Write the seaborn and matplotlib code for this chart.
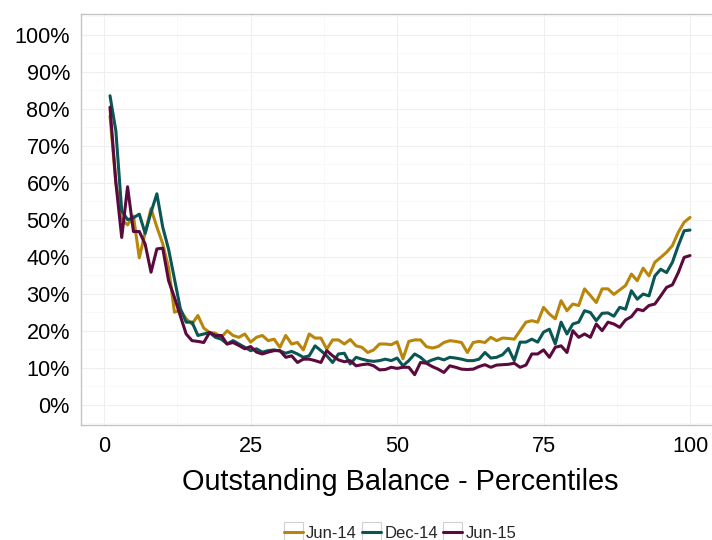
import matplotlib
matplotlib.use("Agg")
import matplotlib.pyplot as plt
from matplotlib.legend_handler import HandlerLine2D
from matplotlib.patches import Rectangle
from matplotlib.ticker import FuncFormatter, MultipleLocator
import pandas as pd
import seaborn as sns

percentiles = list(range(1, 101))

jun14 = [78, 60, 50, 48.6, 51, 39.7, 46.5, 53, 48, 43.5,
         37, 25, 25.5, 23.2, 21.8, 24.1, 20.7, 19.5, 19.3, 18.2,
         20, 18.7, 18.2, 19.1, 16.9, 18.2, 18.7, 17.3, 17.7, 15.5,
         18.7, 16.4, 16.8, 14.8, 19.1, 18.0, 18.0, 15.0, 17.5, 17.5,
         16.4, 17.6, 15.9, 15.5, 14.1, 14.8, 16.4, 16.4, 16.2, 17.0,
         12.4, 17.1, 17.5, 17.5, 15.7, 15.3, 15.7, 16.8, 17.3, 17.1,
         16.8, 14.1, 16.8, 17.1, 16.8, 18.2, 17.3, 18.0, 17.9, 17.7,
         20.0, 22.3, 22.7, 22.3, 26.3, 24.5, 23.2, 28.1, 25.4, 27.2,
         26.8, 31.3, 29.5, 27.6, 31.3, 31.3, 29.8, 31.0, 32.2, 35.3,
         33.5, 36.9, 34.8, 38.5, 39.8, 41.2, 43.0, 46.6, 49.3, 50.6]

dec14 = [83.5, 74, 52.4, 50, 50.5, 51.5, 46.3, 52, 57, 48,
         42, 34, 26, 22.3, 22.3, 18.7, 19.1, 19.5, 18.2, 17.7,
         16.4, 17.3, 16.4, 15.5, 14.6, 15.1, 14.2, 14.6, 14.8, 14.5,
         13.9, 14.4, 13.7, 12.8, 13.2, 15.9, 14.6, 13.2, 11.4, 13.7,
         13.9, 11.0, 12.8, 12.3, 11.9, 11.7, 11.9, 12.3, 11.9, 12.6,
         10.5, 11.9, 13.7, 12.8, 11.4, 12.1, 12.6, 12.1, 12.8, 12.6,
         12.3, 11.9, 11.9, 12.3, 14.1, 12.6, 12.8, 13.5, 15.2, 11.9,
         16.9, 16.9, 17.7, 16.9, 19.6, 20.4, 16.4, 22.3, 19.1, 21.8,
         22.3, 25.4, 24.9, 22.7, 24.7, 24.8, 23.9, 26.3, 25.8, 30.8,
         28.5, 29.9, 29.4, 34.8, 36.6, 35.7, 38.5, 43.0, 47.0, 47.2]

jun15 = [80.4, 60, 45.2, 58.9, 46.8, 46.8, 43.4, 35.8, 42.1, 42.3,
         33.5, 29, 24, 19.1, 17.3, 17.1, 16.8, 19.5, 18.7, 18.7,
         16.4, 16.8, 16.0, 15.1, 15.7, 14.2, 13.7, 14.2, 14.6, 14.6,
         12.8, 13.2, 11.4, 12.3, 12.3, 11.9, 11.4, 14.6, 13.2, 12.1,
         11.6, 11.9, 10.5, 10.8, 11.0, 10.5, 9.4, 9.5, 10.1, 9.8,
         10.1, 10.1, 8.1, 11.4, 11.2, 10.3, 9.6, 8.7, 10.5, 10.1,
         9.6, 9.5, 9.6, 10.3, 10.8, 10.1, 10.7, 10.8, 10.9, 11.2,
         10.1, 10.7, 13.7, 13.7, 14.8, 12.8, 15.5, 15.9, 14.1, 20.0,
         18.2, 19.1, 18.2, 21.8, 20.0, 22.3, 21.8, 20.9, 22.9, 23.8,
         25.8, 25.4, 26.8, 27.2, 29.4, 31.7, 32.4, 35.7, 39.8, 40.3]

series_names = ["Jun-14", "Dec-14", "Jun-15"]
series_colors = ["#B8860B", "#0A5654", "#5A0A3C"]
x_ticks = [0, 25, 50, 75, 100]
y_ticks = list(range(0, 101, 10))

df = pd.concat([
    pd.DataFrame({"pct": percentiles, "value": vals, "period": name})
    for name, vals in zip(series_names, [jun14, dec14, jun15])
])

sns.set_theme(style="white")
plt.rcParams["font.family"] = ["Liberation Sans", "DejaVu Sans"]

fig = plt.figure(figsize=(7.12, 5.40), dpi=100)
ax = fig.add_axes([81 / 712, 1 - 425 / 540, (719 - 81) / 712, (425 - 14) / 540])

sns.lineplot(data=df, x="pct", y="value", hue="period",
             hue_order=series_names, palette=series_colors,
             linewidth=2.2, ax=ax, legend=True)

ax.set_xlim(-3.95, 104.95)
ax.set_ylim(-5.5, 105.6)
ax.set_xticks(x_ticks)
ax.set_yticks(y_ticks)
ax.xaxis.set_minor_locator(MultipleLocator(12.5))
ax.yaxis.set_minor_locator(MultipleLocator(5))
ax.yaxis.set_major_formatter(FuncFormatter(lambda v, _: f"{int(v)}%"))

ax.grid(True, which="major", color="#efefef", linewidth=0.8)
ax.grid(True, which="minor", color="#f7f7f7", linewidth=0.6)
ax.set_axisbelow(True)

for side in ["left", "bottom", "top", "right"]:
    ax.spines[side].set_color("#c4c4c4")
    ax.spines[side].set_linewidth(1.0)

ax.tick_params(axis="both", which="major", length=5, width=0.8,
               color="#8c8c8c", labelsize=15.6, labelcolor="black", pad=3)
ax.tick_params(axis="both", which="minor", length=0)

ax.set_ylabel("")
ax.set_xlabel("Outstanding Balance - Percentiles", fontsize=20.8, color="black", labelpad=8)


class BoxedLine(HandlerLine2D):
    def create_artists(self, legend, orig_handle, xdescent, ydescent,
                       width, height, fontsize, trans):
        arts = super().create_artists(legend, orig_handle, xdescent, ydescent,
                                      width, height, fontsize, trans)
        box = Rectangle((-xdescent, -ydescent - 2), width, height + 4, fill=False,
                        edgecolor="#d0d0d0", linewidth=0.8, transform=trans)
        return [box] + list(arts)


handles, labels = ax.get_legend_handles_labels()
if ax.legend_:
    ax.legend_.remove()
fig.legend(handles, labels, loc="center", bbox_to_anchor=(400 / 712, 1 - 533 / 540),
           ncol=3, frameon=False, fontsize=12, handlelength=1.15,
           handleheight=1.0, handletextpad=0.2, columnspacing=0.3,
           handler_map={h: BoxedLine() for h in handles})

fig.savefig("out.png", dpi=100)
